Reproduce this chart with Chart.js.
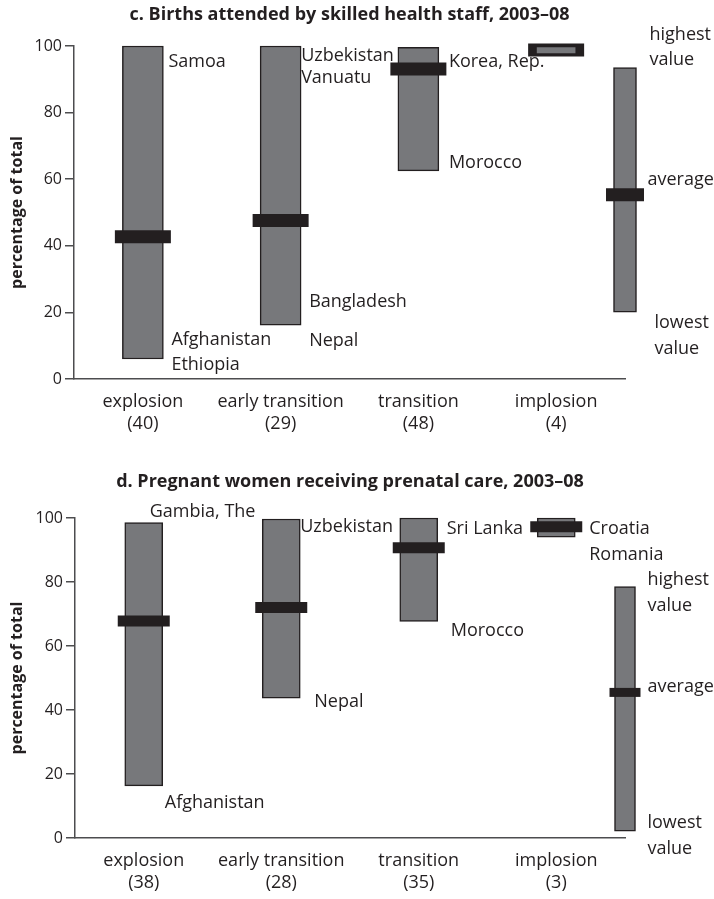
<!DOCTYPE html>
<html>
<head>
<meta charset="utf-8">
<script src="https://cdn.jsdelivr.net/npm/chart.js@4.4.1/dist/chart.umd.min.js"></script>
<style>
  body { margin: 0; background: #fff; }
  canvas { display: block; }
</style>
</head>
<body>
<canvas id="chartC" width="714" height="440"></canvas>
<canvas id="chartD" width="714" height="459"></canvas>
<script>
// groups of countries by demographic stage
var groups = ['explosion', 'early transition', 'transition', 'implosion'];

// c. births attended by skilled health staff
var birthsCount = [40, 29, 48, 4];
var birthsLow = [6, 16.2, 62.5, 97.5];
var birthsHigh = [100, 100, 99.6, 100];
var birthsAvg = [42.7, 47.6, 93.1, 98.8];
var birthsAvgBehind = [false, false, false, true]; // average mark hidden under the bar
var birthsKey = [20.1, 55.3, 93.5]; // lowest, average, highest of the key bar

// d. pregnant women receiving prenatal care
var prenatalCount = [38, 28, 35, 3];
var prenatalLow = [16.3, 43.7, 67.7, 94];
var prenatalHigh = [98.6, 99.7, 100, 100];
var prenatalAvg = [67.8, 72, 90.7, 97.3];
var prenatalAvgBehind = [false, false, false, false];
var prenatalKey = [2.1, 45.5, 78.6];

var yTicks = [0, 20, 40, 60, 80, 100];

var ink = '#231f20';
var barGrey = '#77787b';
var axisGrey = '#4d4d4f';
var fontName = "'Open Sans', 'DejaVu Sans', sans-serif";

// text next to the bars (set 2 = group bars, set 3 = key bar)
var birthsNotes = [
  { set: 2, i: 0, at: 'high', dx: 5, dy: 16, t: 'Samoa' },
  { set: 2, i: 0, at: 'low', dx: 8, dy: -19, t: 'Afghanistan' },
  { set: 2, i: 0, at: 'low', dx: 8, dy: 6, t: 'Ethiopia' },
  { set: 2, i: 1, at: 'high', dx: 0, dy: 10, t: 'Uzbekistan' },
  { set: 2, i: 1, at: 'high', dx: 0, dy: 32, t: 'Vanuatu' },
  { set: 2, i: 1, at: 'low', dx: 8, dy: -23, t: 'Bangladesh' },
  { set: 2, i: 1, at: 'low', dx: 8, dy: 16, t: 'Nepal' },
  { set: 2, i: 2, at: 'avg', dx: 10, dy: -7, t: 'Korea, Rep.' },
  { set: 2, i: 2, at: 'low', dx: 10, dy: -8, t: 'Morocco' },
  { set: 3, i: 0, at: 'high', dx: 13, dy: -33, t: 'highest' },
  { set: 3, i: 0, at: 'high', dx: 13, dy: -8, t: 'value' },
  { set: 3, i: 0, at: 'avg', dx: 11, dy: -15, t: 'average' },
  { set: 3, i: 0, at: 'low', dx: 18, dy: 11, t: 'lowest' },
  { set: 3, i: 0, at: 'low', dx: 18, dy: 37, t: 'value' }
];
var prenatalNotes = [
  { set: 2, i: 0, at: 'high', dx: -13, dy: -11, t: 'Gambia, The' },
  { set: 2, i: 0, at: 'low', dx: 2, dy: 17, t: 'Afghanistan' },
  { set: 2, i: 1, at: 'high', dx: 0, dy: 8, t: 'Uzbekistan' },
  { set: 2, i: 1, at: 'low', dx: 14, dy: 4, t: 'Nepal' },
  { set: 2, i: 2, at: 'high', dx: 9, dy: 11, t: 'Sri Lanka' },
  { set: 2, i: 2, at: 'low', dx: 13, dy: 10, t: 'Morocco' },
  { set: 2, i: 3, at: 'high', dx: 14, dy: 11, t: 'Croatia' },
  { set: 2, i: 3, at: 'high', dx: 14, dy: 37, t: 'Romania' },
  { set: 3, i: 0, at: 'high', dx: 12, dy: -7, t: 'highest' },
  { set: 3, i: 0, at: 'high', dx: 12, dy: 19, t: 'value' },
  { set: 3, i: 0, at: 'avg', dx: 12, dy: -6, t: 'average' },
  { set: 3, i: 0, at: 'low', dx: 12, dy: -8, t: 'lowest' },
  { set: 3, i: 0, at: 'low', dx: 12, dy: 18, t: 'value' }
];

var notesPlugin = {
  id: 'notes',
  afterDraw: function(chart) {
    var o = chart.options.plugins.notes;
    var ctx = chart.ctx;
    var area = chart.chartArea;
    var y = chart.scales.y;
    ctx.save();
    ctx.fillStyle = ink;
    // heading, centred over the plot area
    ctx.font = 'bold 18px ' + fontName;
    ctx.textAlign = 'center';
    ctx.textBaseline = 'middle';
    ctx.fillText(o.title, (area.left + area.right) / 2, o.titleY);
    ctx.font = '18px ' + fontName;
    ctx.textAlign = 'left';
    o.list.forEach(function(n) {
      var el = chart.getDatasetMeta(n.set).data[n.i];
      var d = chart.data.datasets[n.set].data[n.i];
      var v = n.at === 'high' ? d.y[1] : n.at === 'low' ? d.y[0] : o.avg[n.set][n.i];
      ctx.fillText(n.t, el.x + el.width / 2 + n.dx, y.getPixelForValue(v) + n.dy);
    });
    ctx.restore();
  }
};

function makeChart(id, s) {
  var pos = groups.map(function(g, i) { return i + 0.5; });
  function avgPoints(behind) {
    return pos.map(function(x, i) {
      return s.behind[i] === behind ? { x: x, y: s.avg[i] } : null;
    }).filter(function(p) { return p; });
  }
  function marker(data, r, w, order) {
    return {
      type: 'scatter', clip: false, order: order, data: data,
      pointStyle: 'line', pointRadius: r, borderWidth: w,
      borderColor: ink, backgroundColor: ink
    };
  }
  return new Chart(document.getElementById(id), {
    type: 'bar',
    data: {
      datasets: [
        marker(avgPoints(false), s.markR, s.markW, 0),
        marker([{ x: 4, y: s.key[1] }], s.keyMarkR, s.keyMarkW, 0),
        {
          clip: false, grouped: false, barThickness: s.barW, order: 1,
          data: pos.map(function(x, i) { return { x: x, y: [s.low[i], s.high[i]] }; }),
          backgroundColor: barGrey, borderColor: ink, borderWidth: 1.5, borderSkipped: false
        },
        {
          clip: false, grouped: false, barThickness: s.keyW, order: 1,
          data: [{ x: 4, y: [s.key[0], s.key[2]] }],
          backgroundColor: barGrey, borderColor: ink, borderWidth: 1.5, borderSkipped: false
        },
        marker(avgPoints(true), s.markR, s.markW, 2)
      ]
    },
    options: {
      responsive: false,
      animation: false,
      events: [],
      layout: { padding: { top: s.top, right: 89, left: 0, bottom: 0 } },
      scales: {
        x: {
          type: 'linear', min: 0, max: 4, offset: false,
          grid: { display: false, drawTicks: false },
          border: { display: true, color: axisGrey, width: 1.5 },
          afterBuildTicks: function(sc) {
            sc.ticks = pos.map(function(v) { return { value: v }; });
          },
          afterFit: function(sc) { sc.height = s.xH; },
          ticks: {
            autoSkip: false, maxRotation: 0, padding: 12, color: ink,
            font: { family: fontName, size: 18, lineHeight: 1.22 },
            callback: function(v, i) { return [groups[i], '(' + s.count[i] + ')']; }
          }
        },
        y: {
          min: 0, max: 100,
          afterBuildTicks: function(sc) {
            sc.ticks = yTicks.map(function(v) { return { value: v }; });
          },
          afterFit: function(sc) { sc.width = s.yW; },
          grid: { drawOnChartArea: false, drawTicks: true, tickLength: 9, color: axisGrey, lineWidth: 1.5 },
          border: { display: true, color: axisGrey, width: 1.5 },
          ticks: { padding: 3, color: ink, font: { family: fontName, size: 16 } },
          title: {
            display: true, text: 'percentage of total', color: ink,
            font: { family: fontName, size: 16, weight: 'bold' },
            padding: { top: 8, bottom: 0 }
          }
        }
      },
      plugins: {
        legend: { display: false },
        title: { display: false },
        tooltip: { enabled: false },
        notes: { title: s.title, titleY: s.titleY, list: s.notes, avg: { 2: s.avg, 3: [s.key[1]] } }
      }
    },
    plugins: [notesPlugin]
  });
}

makeChart('chartC', {
  title: 'c. Births attended by skilled health staff, 2003\u201308', titleY: 15,
  count: birthsCount, low: birthsLow, high: birthsHigh, avg: birthsAvg, behind: birthsAvgBehind,
  key: birthsKey, notes: birthsNotes, top: 46, xH: 61, yW: 74,
  barW: 41, keyW: 23, markR: 28, markW: 13, keyMarkR: 19, keyMarkW: 13
});

makeChart('chartD', {
  title: 'd. Pregnant women receiving prenatal care, 2003\u201308', titleY: 42,
  count: prenatalCount, low: prenatalLow, high: prenatalHigh, avg: prenatalAvg, behind: prenatalAvgBehind,
  key: prenatalKey, notes: prenatalNotes, top: 78, xH: 61, yW: 75,
  barW: 38, keyW: 21, markR: 26, markW: 11, keyMarkR: 15.5, keyMarkW: 9
});
</script>
</body>
</html>
